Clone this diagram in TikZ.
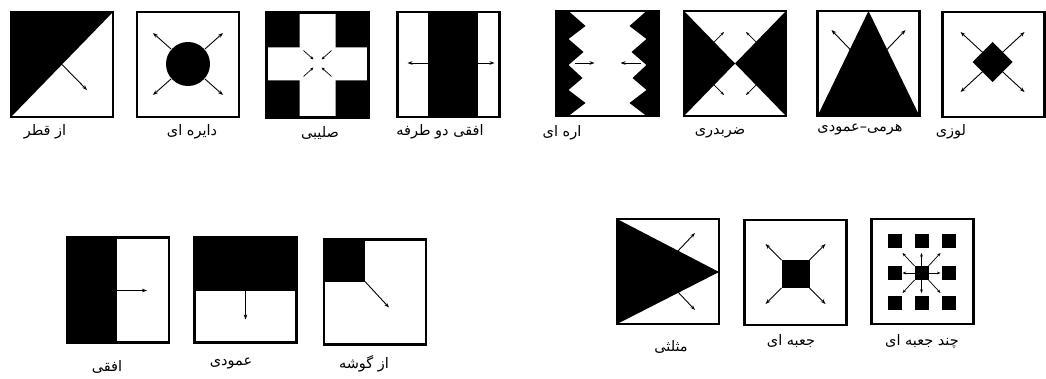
\documentclass[tikz,border=0pt]{standalone}
\usepackage{fontspec}
\newfontfamily\farsi[Script=Arabic]{DejaVu Sans}
\TeXXeTstate=1
\usetikzlibrary{arrows.meta,positioning}

\newcommand{\fa}[1]{{\farsi\beginR #1\endR}}

\begin{document}
\begin{tikzpicture}[x=1pt, y=-1pt,
  pane/.style={draw, line width=2.4pt, outer sep=0pt, inner sep=0pt, minimum width=102pt, minimum height=105pt},
  flow/.style={-{Stealth[length=5pt,width=3.6pt]}, line width=0.9pt},
  dart/.style={-{Stealth[length=3.6pt,width=2.8pt]}, line width=0.7pt},
  tag/.style={font=\fontsize{14.5}{16}\selectfont, inner sep=1pt}
]
\useasboundingbox (0,0) rectangle (1046,379);

% top row
\node[pane] (diag) at (62,64.5) {};
\node[pane] (disc) at (188,64.5) {};
\node[pane] (cross) at (317.5,65) {};
\node[pane] (band) at (448.5,64.5) {};
\node[pane] (saw) at (607.5,63.5) {};
\node[pane] (xcross) at (735,63.5) {};
\node[pane] (pyramid) at (868.5,63.5) {};
\node[pane] (rhomb) at (993.5,64.5) {};
% bottom row
\node[pane] (half) at (118,290) {};
\node[pane] (top) at (245.5,290) {};
\node[pane] (corner) at (375,292) {};
\node[pane] (tri) at (668,271.5) {};
\node[pane] (square) at (795.5,272.5) {};
\node[pane] (multi) at (922.5,271.5) {};

\begin{scope}[shift={(diag.north west)}]
  \fill (0,0) -- (102,0) -- (0,105) -- cycle;
  \draw[flow] (51,52.5) -- (76,78);
\end{scope}
\begin{scope}[shift={(disc.north west)}]
  \fill (51,52) circle[radius=22];
  \foreach \sx/\sy in {-1/-1,1/-1,-1/1,1/1}
    \draw[flow] ({51+17*\sx},{52+15*\sy}) -- ({51+35*\sx},{52+31*\sy});
\end{scope}
\begin{scope}[shift={(cross.north west)}]
  \fill (0,0) rectangle (33,35) (69,0) rectangle (102,35)
        (0,68) rectangle (33,105) (69,68) rectangle (102,105);
  \foreach \sx/\sy in {-1/-1,1/-1,-1/1,1/1}
    \draw[dart] ({51+14*\sx},{51+13*\sy}) -- ({51+4*\sx},{51+4*\sy});
\end{scope}
\begin{scope}[shift={(band.north west)}]
  \fill (30,0) rectangle (80,105);
  \draw[flow] (30,51) -- (10,51);
  \draw[flow] (80,51) -- (97,51);
\end{scope}
\begin{scope}[shift={(saw.north west)}]
  \fill (0,0) -- (12,0) -- (29,15) -- (12,28) -- (27,41) -- (12,54) -- (26,67)
        -- (12,79) -- (29,92) -- (12,105) -- (0,105) -- cycle;
  \draw[flow] (18,52) -- (38,52);
\end{scope}
\begin{scope}[shift={(saw.north east)}, xscale=-1]
  \fill (0,0) -- (12,0) -- (29,15) -- (12,28) -- (27,41) -- (12,54) -- (26,67)
        -- (12,79) -- (29,92) -- (12,105) -- (0,105) -- cycle;
  \draw[flow] (18,52) -- (38,52);
\end{scope}
\begin{scope}[shift={(xcross.north west)}]
  \fill (0,0) -- (51,52.5) -- (0,105) -- cycle (102,0) -- (51,52.5) -- (102,105) -- cycle;
  \draw[dart] (30,31) -- (40,21);
  \draw[dart] (72,31) -- (62,21);
  \draw[dart] (30,74) -- (40,84);
  \draw[dart] (72,74) -- (62,84);
\end{scope}
\begin{scope}[shift={(pyramid.north west)}]
  \fill (51,0) -- (102,105) -- (0,105) -- cycle;
  \draw[flow] (34,40) -- (14,19);
  \draw[flow] (68,40) -- (88,19);
\end{scope}
\begin{scope}[shift={(rhomb.north west)}]
  \fill (50,30) -- (70,50) -- (50,70) -- (30,50) -- cycle;
  \foreach \sx/\sy in {-1/-1,1/-1,-1/1,1/1}
    \draw[flow] ({50+6*\sx},{50+6*\sy}) -- ({50+32*\sx},{50+30*\sy});
\end{scope}
\begin{scope}[shift={(half.north west)}]
  \fill (0,0) rectangle (50,105);
  \draw[flow] (50,53) -- (80,53);
\end{scope}
\begin{scope}[shift={(top.north west)}]
  \fill (0,0) rectangle (102,53);
  \draw[flow] (51,53) -- (51,82);
\end{scope}
\begin{scope}[shift={(corner.north west)}]
  \fill (0,0) rectangle (41,42);
  \draw[flow] (41,42) -- (65,68);
\end{scope}
\begin{scope}[shift={(tri.north west)}]
  \fill (0,0) -- (102,53) -- (0,105) -- cycle;
  \draw[flow] (60,33) -- (78,14);
  \draw[flow] (60,72) -- (78,91);
\end{scope}
\begin{scope}[shift={(square.north west)}]
  \fill (37,40) rectangle (65,68);
  \foreach \sx/\sy in {-1/-1,1/-1,-1/1,1/1}
    \draw[flow] ({51+14*\sx},{54+14*\sy}) -- ({51+30*\sx},{54+30*\sy});
\end{scope}
\begin{scope}[shift={(multi.north west)}]
  \foreach \cx in {23,50,77}
    \foreach \cy in {22,54,84}
      \fill (\cx-7,\cy-7) rectangle ++(14,14);
  \foreach \sx/\sy in {-1/-1,0/-1,1/-1,-1/0,1/0,-1/1,0/1,1/1}
    \draw[dart] ({50+7*\sx},{54+7*\sy}) -- ({50+19*\sx},{54+20*\sy});
\end{scope}

% labels
\node[tag] (ldiag) at (45,132) {\fa{از قطر}};
\node[tag] (ldisc) at (192,132) {\fa{دایره ای}};
\node[tag] (lcross) at (320,133) {\fa{صلیبی}};
\node[tag] (lband) at (440,132) {\fa{افقی دو طرفه}};
\node[tag] (lsaw) at (562,133) {\fa{اره ای}};
\node[tag] (lxcross) at (720,133) {\fa{ضربدری}};
\node[tag] (lpyramid) at (860,129) {\fa{هرمی\kern0pt–\kern0pt عمودی}};
\node[tag] (lrhomb) at (951,132) {\fa{لوزی}};
\node[tag] (lhalf) at (107,367) {\fa{افقی}};
\node[tag] (ltop) at (231,363) {\fa{عمودی}};
\node[tag] (lcorner) at (364,364) {\fa{از گوشه}};
\node[tag] (ltri) at (671,347) {\fa{مثلثی}};
\node[tag] (lsquare) at (791,341) {\fa{جعبه ای}};
\node[tag] (lmulti) at (922,342) {\fa{چند جعبه ای}};
\end{tikzpicture}
\end{document}
